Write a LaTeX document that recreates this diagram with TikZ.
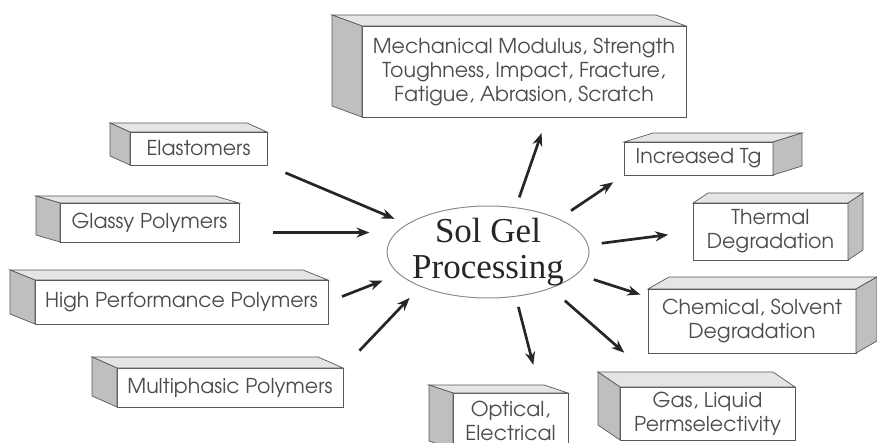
\documentclass[tikz,border=0pt]{standalone}
\usepackage{fontspec}
\usepackage{tikz}
\usetikzlibrary{arrows.meta,shapes.geometric}
\newfontfamily\gothic{TeX Gyre Adventor}
\newfontfamily\timesf{Liberation Serif}

\begin{document}
\begin{tikzpicture}[
            x=1pt, y=-1pt,
            blk/.style={draw=black!65, line width=0.7pt, fill=white, align=center,
                inner sep=0pt, outer sep=0pt, text=black!70,
                font=\gothic\fontsize{20.5}{24}\selectfont},
            topface/.style={draw=black!65, line width=0.7pt, fill=black!10},
            sideface/.style={draw=black!65, line width=0.7pt, fill=black!25},
            arr/.style={-{Stealth[length=13pt,width=10pt]}, line width=2.7pt, black!85}
        ]
            \useasboundingbox (0,0) rectangle (877,443);
            \clip (0,0) rectangle (877,443);

            % inputs
            \node[blk, minimum width=137pt, minimum height=33pt] (elast) at (198.5,148.5) {Elastomers};
            \node[blk, minimum width=179pt, minimum height=39pt] (glassy) at (149.5,222.5) {Glassy Polymers};
            \node[blk, minimum width=293pt, minimum height=44pt] (hp) at (181.5,302) {High Performance Polymers};
            \node[blk, minimum width=226pt, minimum height=39pt] (multi) at (230,387.5) {Multiphasic Polymers};

            % properties
            \node[blk, minimum width=324pt, minimum height=91pt] (mech) at (524,71.5) {Mechanical Modulus, Strength\\Toughness, Impact, Fracture,\\Fatigue, Abrasion, Scratch};
            \node[blk, minimum width=149pt, minimum height=33pt] (tg) at (698.5,158.5) {Increased Tg};
            \node[blk, minimum width=155pt, minimum height=57pt] (thermal) at (770.5,231.5) {Thermal\\Degradation};
            \node[blk, minimum width=208pt, minimum height=64pt] (chem) at (752,321) {Chemical, Solvent\\Degradation};
            \node[blk, minimum width=175pt, minimum height=53pt] (gas) at (707.5,413.5) {Gas, Liquid\\Permselectivity};
            \node[blk, minimum width=115pt, minimum height=56pt] (opt) at (510.5,421) {Optical,\\Electrical};

            % box depth
            \foreach \n/\s/\dx/\dy in {elast/west/-20/-9, glassy/west/-24/-7, hp/west/-25/-10, multi/west/-25/-11,
                    mech/west/-30/-11, tg/east/29/-9, thermal/east/15/-10, chem/east/21/-12,
                    gas/west/-22/-15, opt/west/-24/-8} {
                \filldraw[topface] (\n.north west) -- ++(\dx,\dy) -- ([shift={(\dx,\dy)}]\n.north east) -- (\n.north east) -- cycle;
                \filldraw[sideface] (\n.north \s) -- ++(\dx,\dy) -- ([shift={(\dx,\dy)}]\n.south \s) -- (\n.south \s) -- cycle;
            }

            \node[ellipse, draw=black!45, line width=1pt, minimum width=202pt, minimum height=92pt,
                inner sep=0pt, outer sep=0pt] (sg) at (488,252) {};
            \node[align=center, inner sep=0pt, text=black!85, font=\timesf\fontsize{35}{36}\selectfont] (sgtext) at (sg) {Sol Gel\\Processing};

            \draw[arr, shorten <=20pt, shorten >=14pt] (elast.south east) -- (sg.161);
            \draw[arr, shorten <=34pt, shorten >=27pt] (glassy.east |- sg.168) -- (sg.168);
            \draw[arr, shorten <=15pt, shorten >=18pt] (hp.east) -- (sg.194);
            \draw[arr, shorten <=24pt, shorten >=16pt] (multi.north east) -- (sg.207);

            \draw[arr, shorten <=11pt, shorten >=17pt] (sg.58) -- (mech.-63);
            \draw[arr, shorten <=15pt, shorten >=13pt] (sg.25) -- (tg.south west);
            \draw[arr, shorten <=14pt, shorten >=25pt] (sg.4) -- (thermal.west);
            \draw[arr, shorten <=18pt, shorten >=8pt] (sg.-14) -- (chem.167);
            \draw[arr, shorten <=19pt, shorten >=52pt] (sg.-30) -- (gas.149);
            \draw[arr, shorten <=11pt, shorten >=29pt] (sg.-58) -- (opt.43);
        \end{tikzpicture}
\end{document}
